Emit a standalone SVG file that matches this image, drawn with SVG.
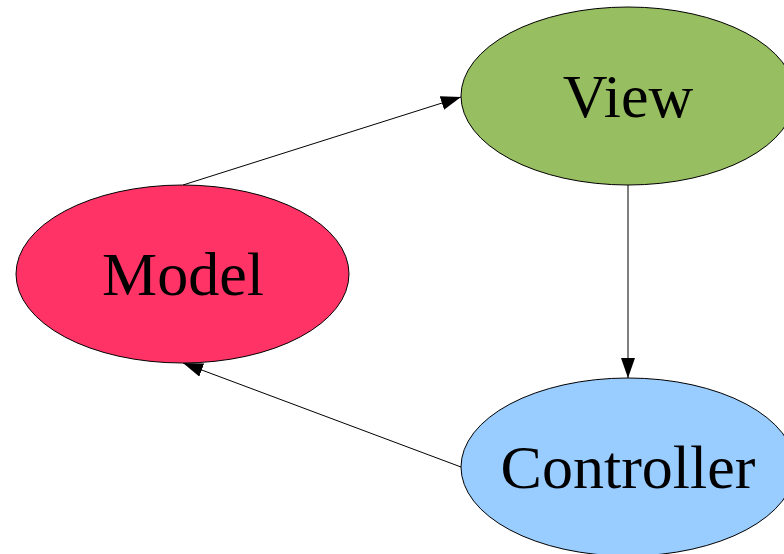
<svg xmlns="http://www.w3.org/2000/svg" width="784" height="554" viewBox="0 0 784 554">
<style>
.node{stroke:#000;stroke-width:1}
.lbl{font-family:"Liberation Serif","Times New Roman",serif;font-size:62px;fill:#000;text-anchor:middle}
.edge{stroke:#000;stroke-width:1;fill:none;marker-end:url(#arr)}
</style>
<defs>
<marker id="arr" viewBox="0 0 20 14" refX="20" refY="7" markerWidth="20" markerHeight="14" markerUnits="userSpaceOnUse" orient="auto">
<path d="M0,0 L20,7 L0,14 Z" fill="#000"/>
</marker>
</defs>
<rect width="784" height="554" fill="#fff"/>
<g id="connectors">
<line class="edge" x1="183" y1="185" x2="461" y2="97"/>
<line class="edge" x1="628" y1="185" x2="628" y2="378"/>
<line class="edge" x1="461" y1="467" x2="183" y2="363"/>
</g>
<g id="model">
<ellipse class="node" cx="182.5" cy="274" rx="166.5" ry="89" fill="#FF3366"/>
<text class="lbl" x="183" y="295">Model</text>
</g>
<g id="view">
<ellipse class="node" cx="628" cy="96" rx="167" ry="89" fill="#97BE60"/>
<text class="lbl" x="628" y="117">View</text>
</g>
<g id="controller">
<ellipse class="node" cx="628" cy="467" rx="167" ry="89" fill="#99CCFF"/>
<text class="lbl" x="628" y="488">Controller</text>
</g>
</svg>
